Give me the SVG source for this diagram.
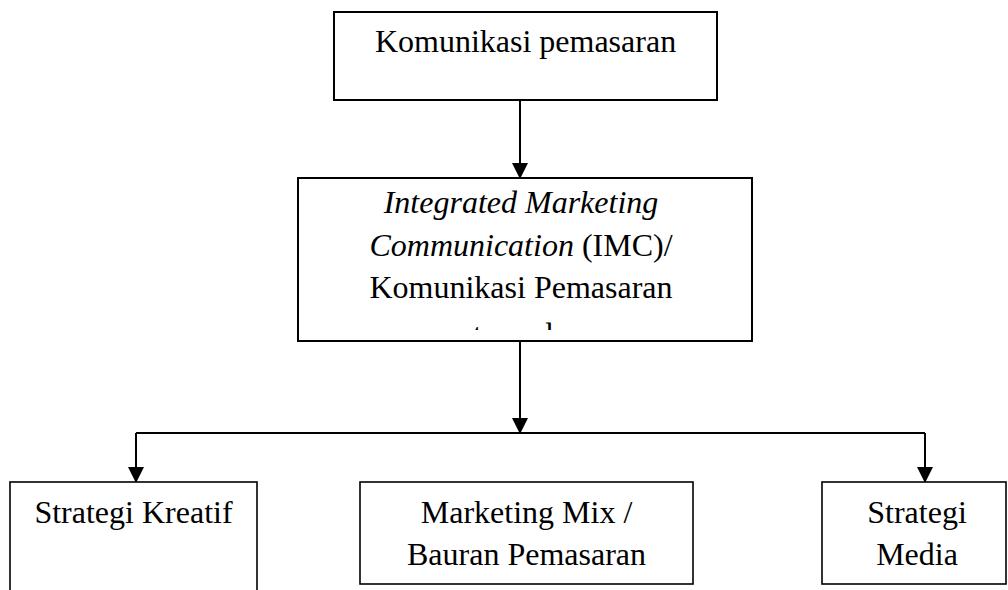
<svg xmlns="http://www.w3.org/2000/svg" width="1008" height="590" viewBox="0 0 1008 590">
<style>
.box{fill:#fff;stroke:#000;stroke-width:2}
.box2{fill:#fff;stroke:#000;stroke-width:1.6}
.t{font-family:"Liberation Serif","Times New Roman",serif;font-size:32px;fill:#000;text-anchor:middle}
.i{font-style:italic}
.c{fill:none;stroke:#000;stroke-width:2}
</style>
<defs>
<marker id="ah" markerUnits="userSpaceOnUse" markerWidth="16" markerHeight="18" refX="15" refY="8" orient="auto">
<path d="M0,0 L16,8 L0,16 Z" fill="#000"/>
</marker>
<clipPath id="clipImc"><rect x="298" y="178" width="454" height="152"/></clipPath>
</defs>
<g id="connectors">
<line class="c" x1="520" y1="100" x2="520" y2="178" marker-end="url(#ah)"/>
<line class="c" x1="520" y1="341" x2="520" y2="433" marker-end="url(#ah)"/>
<line class="c" x1="136" y1="433" x2="925" y2="433"/>
<line class="c" x1="136" y1="433" x2="136" y2="482" marker-end="url(#ah)"/>
<line class="c" x1="925" y1="433" x2="925" y2="482" marker-end="url(#ah)"/>
</g>
<g id="node-komunikasi">
<rect class="box" x="334" y="12" width="383" height="88"/>
<text class="t" x="525.5" y="52">Komunikasi pemasaran</text>
</g>
<g id="node-imc">
<rect class="box" x="298" y="178" width="454" height="163"/>
<g clip-path="url(#clipImc)">
<text class="t" x="521" y="213"><tspan class="i">Integrated Marketing</tspan></text>
<text class="t" x="521" y="256"><tspan class="i">Communication</tspan> (IMC)/</text>
<text class="t" x="521" y="298">Komunikasi Pemasaran</text>
<text class="t" x="521" y="345">terpadu</text>
</g>
</g>
<g id="node-kreatif">
<rect class="box2" x="10" y="482" width="247" height="120"/>
<text class="t" x="133.5" y="523">Strategi Kreatif</text>
</g>
<g id="node-mix">
<rect class="box2" x="360" y="482" width="333" height="102"/>
<text class="t" x="526.5" y="523">Marketing Mix /</text>
<text class="t" x="526.5" y="565">Bauran Pemasaran</text>
</g>
<g id="node-media">
<rect class="box2" x="822" y="482" width="184" height="102"/>
<text class="t" x="917" y="523">Strategi</text>
<text class="t" x="917" y="565">Media</text>
</g>
</svg>
